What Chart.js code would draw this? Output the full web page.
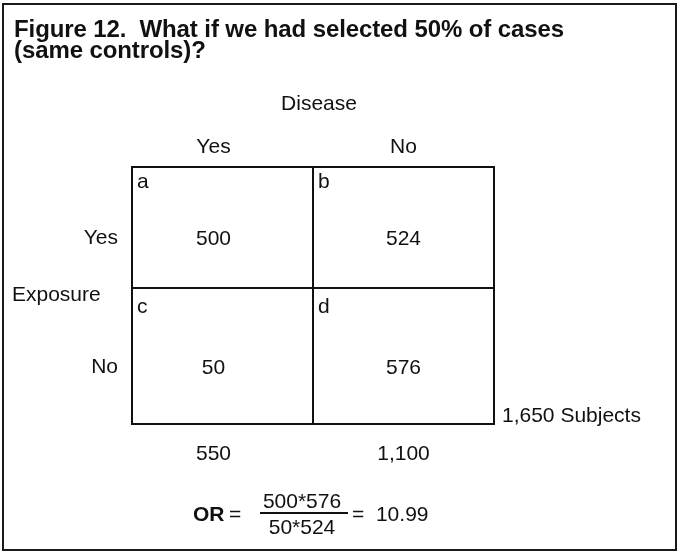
<!DOCTYPE html>
<html>
<head>
<meta charset="utf-8">
<script src="https://cdn.jsdelivr.net/npm/chart.js@4.4.1/dist/chart.umd.min.js"></script>
<style>
	html, body { margin: 0; padding: 0; background: #fff; }
	#fig { position: relative; width: 677px; height: 553px; overflow: hidden; color: #111;
		font-family: "Liberation Sans", Arial, Helvetica, sans-serif; }
	#fig canvas { position: absolute; left: 0; top: 0; }
	.frame { position: absolute; left: 2px; top: 3px; width: 675px; height: 548px;
		border: 2px solid #1a1a1a; box-sizing: border-box; }
	.title { position: absolute; left: 14px; top: 18px; font-size: 24px; line-height: 21px;
		font-weight: bold; white-space: pre; letter-spacing: -0.1px; }
	.t21 { position: absolute; font-size: 21px; line-height: 21px; white-space: pre; }
	.bar { position: absolute; height: 2px; background: #111; }
</style>
</head>
<body>
<div id="fig">
	<canvas id="ct" width="677" height="553"></canvas>
	<div class="frame"></div>
	<div class="title">Figure 12.  What if we had selected 50% of cases<br>(same controls)?</div>
	<div class="t21" style="left:193px;top:503px;font-weight:bold;">OR</div>
	<div class="t21" style="left:229px;top:503px;">=</div>
	<div class="t21" id="num" style="left:252px;top:490px;width:100px;text-align:center;"></div>
	<div class="bar" style="left:260px;top:512px;width:88px;"></div>
	<div class="t21" id="den" style="left:252px;top:516px;width:100px;text-align:center;"></div>
	<div class="t21" id="orv" style="left:352px;top:503px;"></div>
</div>
<script>
(function() {
	'use strict';

	// 2x2 table: rows = exposure, columns = disease
	var diseaseLevels = ['Yes', 'No'];
	var exposureLevels = ['Yes', 'No'];
	var cellLetters = ['a', 'b', 'c', 'd'];
	var cellCounts = [500, 524, 50, 576];
	var columnTotals = [550, 1100];
	var totalSubjects = 1650;

	var INK = '#111';
	var FONT = '21px "Liberation Sans", Arial, Helvetica, sans-serif';
	var ROW_SPLIT = 0.44;          // horizontal divider sits a bit above the middle
	var colNudge = [-9, 0];

	var fmt = function(n) { return n.toLocaleString('en-US'); };

	// odds ratio text below the table
	document.getElementById('num').textContent = cellCounts[0] + '*' + cellCounts[3];
	document.getElementById('den').textContent = cellCounts[2] + '*' + cellCounts[1];
	var or = (cellCounts[0] * cellCounts[3]) / (cellCounts[2] * cellCounts[1]);
	document.getElementById('orv').textContent = '=  ' + or.toFixed(2);

	var tablePlugin = {
		id: 'twoByTwo',
		afterDatasetsDraw: function(chart) {
			var ctx = chart.ctx;
			var a = chart.chartArea;
			var xs = chart.scales.x;
			var ys = chart.scales.y;
			var pts = chart.getDatasetMeta(0).data;
			var rowEdges = [-0.5, ROW_SPLIT, 1.5];

			ctx.save();
			ctx.strokeStyle = INK;
			ctx.fillStyle = INK;
			ctx.lineWidth = 2;
			ctx.font = FONT;

			pts.forEach(function(p, i) {
				var c = i % 2, r = Math.floor(i / 2);
				var x0 = Math.round(xs.getPixelForValue(c - 0.5));
				var x1 = Math.round(xs.getPixelForValue(c + 0.5));
				var y0 = Math.round(ys.getPixelForValue(rowEdges[r]));
				var y1 = Math.round(ys.getPixelForValue(rowEdges[r + 1]));
				ctx.strokeRect(x0, y0, x1 - x0, y1 - y0);

				ctx.textAlign = 'left';
				ctx.textBaseline = 'alphabetic';
				ctx.fillText(cellLetters[i], x0 + 5, y0 + (r === 0 ? 21 : 25));

				ctx.textAlign = 'center';
				ctx.fillText(fmt(cellCounts[i]), p.x + colNudge[c], p.y + 14);
			});

			// column headers and totals
			ctx.textAlign = 'center';
			diseaseLevels.forEach(function(lab, c) {
				var cx = xs.getPixelForValue(c) + colNudge[c];
				ctx.fillText(lab, cx, a.top - 14);
				ctx.fillText(fmt(columnTotals[c]), cx, a.bottom + 36);
			});
			ctx.fillText('Disease', (a.left + a.right) / 2 + 6, a.top - 57);

			// row headers
			ctx.textAlign = 'right';
			exposureLevels.forEach(function(lab, r) {
				ctx.fillText(lab, a.left - 14, ys.getPixelForValue(r) + 13);
			});
			ctx.textAlign = 'left';
			ctx.fillText('Exposure', a.left - 120, ys.getPixelForValue(ROW_SPLIT) + 13);

			ctx.fillText(fmt(totalSubjects) + ' Subjects', a.right + 8, a.bottom - 2);
			ctx.restore();
		}
	};

	var canvas = document.getElementById('ct');
	new Chart(canvas.getContext('2d'), {
		type: 'scatter',
		data: {
			datasets: [{
				data: cellCounts.map(function(v, i) {
					return { x: i % 2, y: Math.floor(i / 2) };
				}),
				pointRadius: 0
			}]
		},
		options: {
			responsive: false,
			devicePixelRatio: 1,
			animation: false,
			events: [],
			layout: {
				padding: { left: 132, top: 167, right: 183, bottom: 129 }
			},
			plugins: {
				legend: { display: false },
				tooltip: { enabled: false }
			},
			scales: {
				x: { type: 'linear', min: -0.5, max: 1.5, display: false },
				y: { type: 'linear', min: -0.5, max: 1.5, reverse: true, display: false }
			}
		},
		plugins: [tablePlugin]
	});
})();
</script>
</body>
</html>
